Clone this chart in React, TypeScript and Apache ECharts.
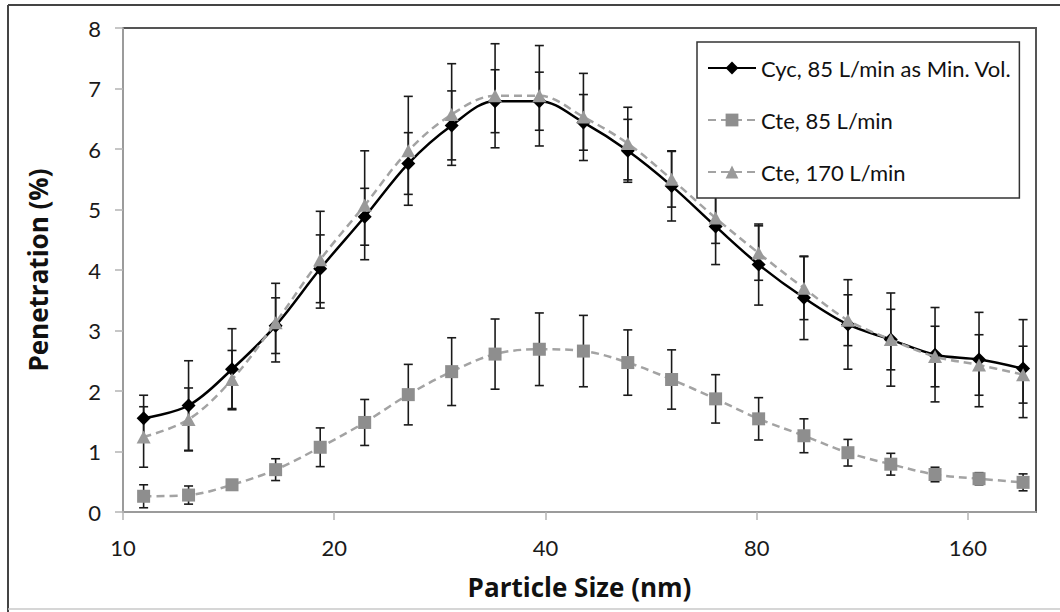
import React, { useEffect, useRef } from "react";
import * as echarts from "echarts";

// Particle size (nm)
const sizes = [10.7, 12.4, 14.3, 16.5, 19.1, 22.1, 25.5, 29.4, 33.9, 39.2, 45.3, 52.4, 60.5, 69.9, 80.5, 93.4, 107.9, 124.2, 143.6, 165.9, 191.7];

const cyc = [1.55, 1.76, 2.36, 3.08, 4.02, 4.88, 5.76, 6.39, 6.79, 6.79, 6.44, 5.97, 5.39, 4.72, 4.09, 3.54, 3.1, 2.85, 2.6, 2.52, 2.37];
const cycErr = [0.38, 0.74, 0.67, 0.46, 0.56, 0.47, 0.51, 0.57, 0.52, 0.48, 0.46, 0.52, 0.58, 0.63, 0.67, 0.69, 0.74, 0.77, 0.78, 0.78, 0.81];

const cte85 = [0.26, 0.28, 0.45, 0.7, 1.07, 1.48, 1.94, 2.32, 2.61, 2.69, 2.66, 2.47, 2.19, 1.87, 1.54, 1.26, 0.98, 0.79, 0.62, 0.55, 0.49];
const cte85Err = [0.19, 0.15, 0.05, 0.18, 0.32, 0.38, 0.5, 0.56, 0.58, 0.6, 0.59, 0.54, 0.49, 0.4, 0.35, 0.28, 0.22, 0.18, 0.12, 0.1, 0.14];

const cte170 = [1.24, 1.53, 2.19, 3.13, 4.17, 5.07, 5.97, 6.57, 6.88, 6.88, 6.53, 6.09, 5.5, 4.86, 4.28, 3.7, 3.17, 2.85, 2.57, 2.43, 2.27];
const cte170Err = [0.5, 0.52, 0.48, 0.65, 0.8, 0.9, 0.9, 0.84, 0.86, 0.83, 0.72, 0.6, 0.46, 0.42, 0.45, 0.52, 0.42, 0.5, 0.5, 0.5, 0.47];

const seriesNames = ["Cyc, 85 L/min as Min. Vol.", "Cte, 85 L/min", "Cte, 170 L/min"];

// x axis: log base 2, from 10 nm to 200 nm
const xMinNm = 10;
const xMaxNm = 200;
const toX = (nm: number) => Math.log2(nm / xMinNm);

const FONT = "Lato, 'Open Sans', sans-serif";
const TITLE_FONT = "'Open Sans', Lato, sans-serif";

export default function App() {
  const ref = useRef<HTMLDivElement>(null);

  useEffect(() => {
    document.body.style.margin = "0";
    if (!ref.current) return;
    const chart = echarts.init(ref.current, undefined, { renderer: "svg" });

    const xs = sizes.map(toX);
    const pts = (ys: number[]) => xs.map((x, i) => [x, ys[i]]);
    const errPts = (ys: number[], es: number[]) => xs.map((x, i) => [x, ys[i], es[i]]);

    const errorSeries = (ys: number[], es: number[], z: number) => ({
      type: "custom",
      z,
      silent: true,
      encode: { x: 0, y: 1 },
      data: errPts(ys, es),
      renderItem: (params: any, api: any) => {
        const x = api.value(0);
        const y = api.value(1);
        const e = api.value(2);
        const top = api.coord([x, y + e]);
        const bot = api.coord([x, y - e]);
        const hw = 4.5;
        const style = { stroke: "#1a1a1a", lineWidth: 1.6 };
        return {
          type: "group",
          children: [
            { type: "line", shape: { x1: top[0], y1: top[1], x2: bot[0], y2: bot[1] }, style },
            { type: "line", shape: { x1: top[0] - hw, y1: top[1], x2: top[0] + hw, y2: top[1] }, style },
            { type: "line", shape: { x1: bot[0] - hw, y1: bot[1], x2: bot[0] + hw, y2: bot[1] }, style },
          ],
        };
      },
    });

    const option: any = {
      animation: false,
      backgroundColor: "#fff",
      grid: {
        left: 123,
        top: 28,
        right: 24,
        bottom: 100,
        show: true,
        borderColor: "#555",
        borderWidth: 2,
        backgroundColor: "#fff",
      },
      xAxis: {
        type: "value",
        min: 0,
        max: toX(xMaxNm),
        interval: 1,
        name: "Particle Size (nm)",
        nameLocation: "middle",
        nameGap: 62,
        nameTextStyle: { fontFamily: TITLE_FONT, fontSize: 26, fontWeight: "bold", color: "#111" },
        axisLine: { show: true, lineStyle: { color: "#b3b3b3", width: 1.5 } },
        axisTick: { show: true, inside: false, length: 8, lineStyle: { color: "#b3b3b3", width: 1.5 } },
        axisLabel: {
          fontFamily: FONT,
          fontSize: 22,
          color: "#1a1a1a",
          margin: 24,
          showMaxLabel: false,
          formatter: (v: number) =>
            Math.abs(v - Math.round(v)) < 1e-6 ? String(Math.round(xMinNm * Math.pow(2, v))) : "",
        },
        splitLine: { show: false },
      },
      yAxis: {
        type: "value",
        min: 0,
        max: 8,
        interval: 1,
        name: "Penetration (%)",
        nameLocation: "middle",
        nameGap: 72,
        nameTextStyle: { fontFamily: TITLE_FONT, fontSize: 26, fontWeight: "bold", color: "#111" },
        axisLine: { show: true, lineStyle: { color: "#b3b3b3", width: 1.5 } },
        axisTick: { show: true, inside: false, length: 8, lineStyle: { color: "#b3b3b3", width: 1.5 } },
        axisLabel: { fontFamily: FONT, fontSize: 22, color: "#1a1a1a", margin: 22 },
        splitLine: { show: false },
      },
      legend: {
        data: seriesNames,
        orient: "vertical",
        left: 697,
        top: 42,
        itemWidth: 48,
        itemHeight: 16,
        itemGap: 30,
        padding: [15, 8, 15, 10],
        backgroundColor: "#fff",
        borderColor: "#333",
        borderWidth: 1.5,
        borderRadius: 0,
        textStyle: { fontFamily: FONT, fontSize: 22, color: "#111" },
        z: 10,
      },
      graphic: [
        { type: "line", shape: { x1: 8, y1: 5, x2: 8, y2: 612 }, style: { stroke: "#444", lineWidth: 2 } },
        { type: "line", shape: { x1: 8, y1: 5, x2: 1060, y2: 5 }, style: { stroke: "#444", lineWidth: 2 } },
        { type: "line", shape: { x1: 8, y1: 609, x2: 1060, y2: 609 }, style: { stroke: "#c8c8c8", lineWidth: 1.5 } },
      ],
      series: [
        errorSeries(cyc, cycErr, 1),
        errorSeries(cte85, cte85Err, 1),
        errorSeries(cte170, cte170Err, 1),
        {
          name: seriesNames[0],
          type: "line",
          z: 2,
          data: pts(cyc),
          smooth: 0.35,
          symbol: "diamond",
          symbolSize: 14,
          itemStyle: { color: "#000" },
          lineStyle: { color: "#000", width: 2.5 },
        },
        {
          name: seriesNames[1],
          type: "line",
          z: 3,
          data: pts(cte85),
          smooth: 0.35,
          symbol: "rect",
          symbolSize: 13,
          itemStyle: { color: "#8e8e8e" },
          lineStyle: { color: "#a3a3a3", width: 2.5, type: [8, 5] },
        },
        {
          name: seriesNames[2],
          type: "line",
          z: 4,
          data: pts(cte170),
          smooth: 0.35,
          symbol: "triangle",
          symbolSize: [14, 13],
          itemStyle: { color: "#999" },
          lineStyle: { color: "#a3a3a3", width: 2.5, type: [8, 5] },
        },
      ],
    };

    chart.setOption(option);
    return () => chart.dispose();
  }, []);

  return <div ref={ref} style={{ width: 1060, height: 612 }} />;
}
